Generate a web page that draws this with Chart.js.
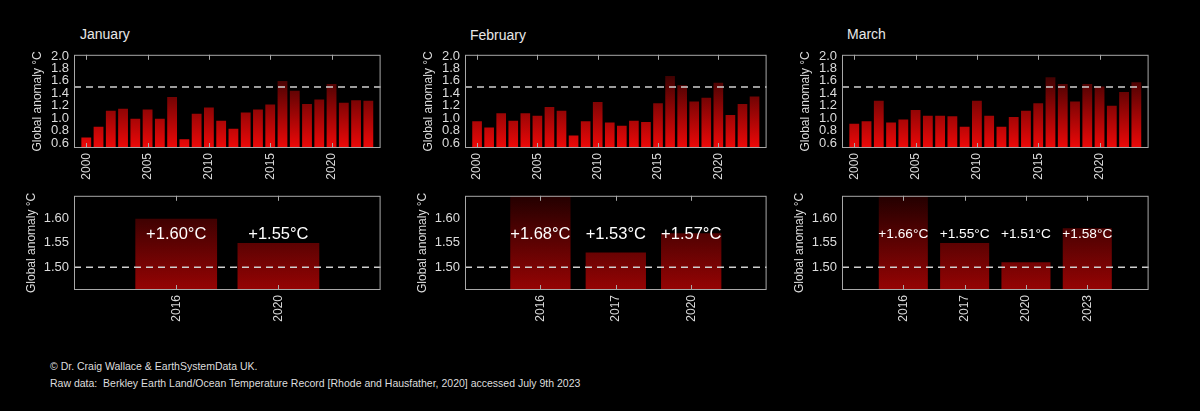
<!DOCTYPE html>
<html>
<head>
<meta charset="utf-8">
<script src="https://cdn.jsdelivr.net/npm/chart.js@4.4.0/dist/chart.umd.min.js"></script>
<style>
  body { margin:0; background:#000; width:1200px; height:411px; overflow:hidden; position:relative;
         font-family:"Liberation Sans", Arial, sans-serif; color:#ddd; }
  canvas { position:absolute; }
  .month { position:absolute; font-size:14px; color:#e8e8e8; white-space:nowrap; }
  .foot { position:absolute; left:50px; font-size:10.5px; color:#ddd; white-space:nowrap; }
</style>
</head>
<body>
<div class="month" style="left:80px;top:26px">January</div>
<div class="month" style="left:470px;top:27px">February</div>
<div class="month" style="left:847px;top:26px">March</div>

<canvas id="janTop" width="381" height="151" style="left:19px;top:42px"></canvas>
<canvas id="febTop" width="376" height="151" style="left:410px;top:42px"></canvas>
<canvas id="marTop" width="381" height="151" style="left:787px;top:42px"></canvas>
<canvas id="janBottom" width="381" height="152" style="left:19px;top:183px"></canvas>
<canvas id="febBottom" width="376" height="152" style="left:410px;top:183px"></canvas>
<canvas id="marBottom" width="381" height="152" style="left:787px;top:183px"></canvas>

<div class="foot" style="top:360px">© Dr. Craig Wallace &amp; EarthSystemData UK.</div>
<div class="foot" style="top:377px">Raw data:&nbsp;&nbsp;Berkley Earth Land/Ocean Temperature Record [Rhode and Hausfather, 2020] accessed July 9th 2023</div>

<script>
// data (global anomaly, °C)
const years = [2000, 2001, 2002, 2003, 2004, 2005, 2006, 2007, 2008, 2009, 2010, 2011,
               2012, 2013, 2014, 2015, 2016, 2017, 2018, 2019, 2020, 2021, 2022, 2023];
const janValues = [0.69, 0.86, 1.12, 1.15, 0.99, 1.14, 0.99, 1.34, 0.66, 1.07, 1.17, 0.96,
                   0.83, 1.09, 1.14, 1.22, 1.60, 1.44, 1.23, 1.30, 1.55, 1.25, 1.29, 1.28];
const febValues = [0.95, 0.85, 1.08, 0.96, 1.08, 1.04, 1.18, 1.12, 0.72, 0.95, 1.26, 0.93,
                   0.88, 0.96, 0.94, 1.24, 1.68, 1.53, 1.27, 1.33, 1.57, 1.05, 1.23, 1.35];
const marValues = [0.91, 0.95, 1.28, 0.93, 0.98, 1.13, 1.04, 1.04, 1.03, 0.86, 1.28, 1.04,
                   0.86, 1.02, 1.12, 1.24, 1.66, 1.55, 1.27, 1.55, 1.51, 1.20, 1.42, 1.58];
const topTicks = [0.6, 0.8, 1.0, 1.2, 1.4, 1.6, 1.8, 2.0];

const janHotYears = ['2016', '2020'];
const janHotValues = [1.60, 1.55];
const febHotYears = ['2016', '2017', '2020'];
const febHotValues = [1.68, 1.53, 1.57];
const marHotYears = ['2016', '2017', '2020', '2023'];
const marHotValues = [1.66, 1.55, 1.51, 1.58];
const bottomTicks = [1.50, 1.55, 1.60];

const threshold = 1.5;

Chart.defaults.font.family = '"Liberation Sans", Arial, sans-serif';
Chart.defaults.color = '#dcdcdc';

//fill the bars with a gradient over the whole plot height
function barFill(stops){
    return function(c){
        const a = c.chart.chartArea;
        if (!a) return stops[0];
        const g = c.chart.ctx.createLinearGradient(0, a.bottom, 0, a.top);
        g.addColorStop(0, stops[0]);
        g.addColorStop(1, stops[1]);
        return g;
    };
}

//box, inward ticks, 1.5 line and the value labels
const framePlugin = {
    id: 'frame',
    afterDatasetsDraw(chart, args, opts){
        const ctx = chart.ctx;
        const a = chart.chartArea;
        const x = chart.scales.x;
        const y = chart.scales.y;
        ctx.save();

        const yy = y.getPixelForValue(threshold);
        ctx.strokeStyle = '#cfcfcf';
        ctx.lineWidth = 1.5;
        ctx.setLineDash([7, 5]);
        ctx.beginPath();
        ctx.moveTo(a.left, yy);
        ctx.lineTo(a.right, yy);
        ctx.stroke();
        ctx.setLineDash([]);

        ctx.strokeStyle = '#a8a8a8';
        ctx.lineWidth = 1;
        ctx.strokeRect(a.left + 0.5, a.top + 0.5, a.width - 1, a.height - 1);

        x.ticks.forEach(function(t, i){
            if (!t.label) return;
            const px = Math.round(x.getPixelForTick(i)) + 0.5;
            ctx.beginPath();
            ctx.moveTo(px, a.top);
            ctx.lineTo(px, a.top + 5);
            ctx.moveTo(px, a.bottom);
            ctx.lineTo(px, a.bottom - 5);
            ctx.stroke();
        });

        if (opts.values){
            const bars = chart.getDatasetMeta(0).data;
            ctx.fillStyle = '#ffffff';
            ctx.font = opts.fontSize + 'px "Liberation Sans", Arial, sans-serif';
            ctx.textAlign = 'center';
            ctx.textBaseline = 'middle';
            const ty = y.getPixelForValue(opts.labelAt);
            opts.values.forEach(function(v, i){
                ctx.fillText('+' + v.toFixed(2) + '°C', bars[i + 1].x, ty);
            });
        }
        ctx.restore();
    }
};

function makeChart(elem_id, labels, values, cfg){
    const ctx = document.getElementById(elem_id).getContext('2d');
    return new Chart(ctx, {
        type: 'bar',
        data: {
            labels: [''].concat(labels, ['']),
            datasets: [{
                data: [null].concat(values, [null]),
                backgroundColor: barFill(cfg.stops),
                borderWidth: 0,
                barPercentage: 1,
                categoryPercentage: 0.8
            }]
        },
        options: {
            responsive: false,
            animation: false,
            layout: { padding: { top: 10, right: 10, left: 0, bottom: 0 } },
            plugins: {
                legend: { display: false },
                tooltip: { enabled: false },
                frame: cfg.frame || {}
            },
            scales: {
                x: {
                    offset: false,
                    grid: { display: false, drawTicks: false },
                    border: { display: false },
                    ticks: {
                        autoSkip: false,
                        maxRotation: 90,
                        minRotation: 90,
                        padding: 5,
                        color: '#d8d8d8',
                        font: { size: 12 },
                        callback: function(v){
                            const lab = this.getLabelForValue(v);
                            return cfg.showLabel(lab) ? lab : '';
                        }
                    },
                    afterFit: function(s){ s.height = 45; }
                },
                y: {
                    min: cfg.min,
                    max: cfg.max,
                    grid: { display: false, drawTicks: false },
                    border: { display: false },
                    ticks: {
                        autoSkip: false,
                        padding: 5,
                        color: '#dcdcdc',
                        font: { size: 13 },
                        callback: function(v){ return v.toFixed(cfg.digits); }
                    },
                    afterBuildTicks: function(s){
                        s.ticks = cfg.ticks.map(function(v){ return { value: v }; });
                    },
                    afterFit: function(s){ s.width = 55; },
                    title: {
                        display: true,
                        text: 'Global anomaly °C',
                        color: '#dcdcdc',
                        font: { size: 12 },
                        padding: { top: cfg.titlePad, bottom: 0 }
                    }
                }
            }
        },
        plugins: [framePlugin]
    });
}

const topStops = ['rgb(238,8,8)', 'rgb(12,0,0)'];
const bottomStops = ['rgb(150,4,4)', 'rgb(35,0,0)'];
const yearLabels = years.map(String);
const everyFifth = function(lab){ return lab !== '' && Number(lab) % 5 === 0; };
const everyOne = function(lab){ return lab !== ''; };

[['janTop', janValues], ['febTop', febValues], ['marTop', marValues]].forEach(function(p){
    makeChart(p[0], yearLabels, p[1], {
        stops: topStops, min: 0.52, max: 2.02, ticks: topTicks, digits: 1,
        titlePad: 11, showLabel: everyFifth
    });
});

[['janBottom', janHotYears, janHotValues, 16.5],
 ['febBottom', febHotYears, febHotValues, 16.5],
 ['marBottom', marHotYears, marHotValues, 13.7]].forEach(function(p){
    makeChart(p[0], p[1], p[2], {
        stops: bottomStops, min: 1.4528, max: 1.6472, ticks: bottomTicks, digits: 2,
        titlePad: 5, showLabel: everyOne,
        frame: { values: p[2], fontSize: p[3], labelAt: 1.567 }
    });
});
</script>
</body>
</html>
